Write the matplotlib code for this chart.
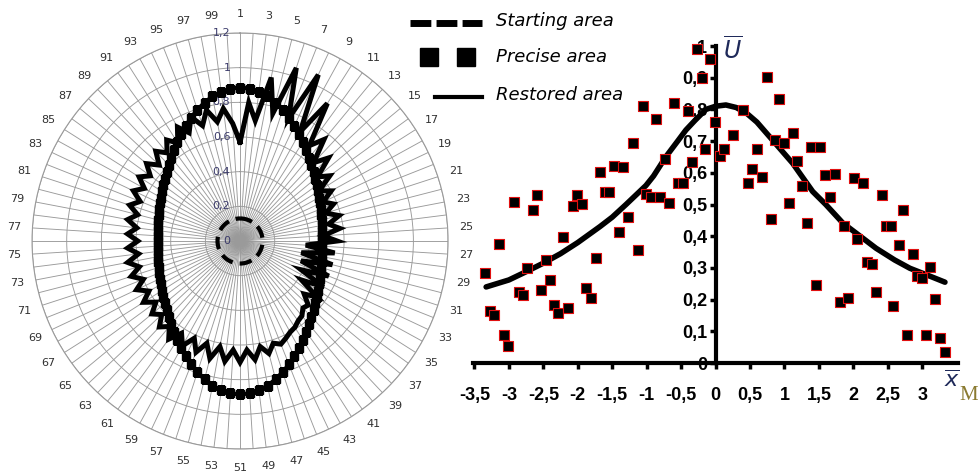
import numpy as np
import matplotlib.pyplot as plt

# ---- left chart: radar with 100 directions (1 on top, clockwise) ----
categories = list(range(1, 101))

starting = [0.13, 0.13, 0.13, 0.13, 0.13, 0.13, 0.13, 0.13, 0.13, 0.13,
            0.13, 0.13, 0.13, 0.13, 0.13, 0.13, 0.13, 0.13, 0.13, 0.13,
            0.13, 0.13, 0.13, 0.13, 0.13, 0.13, 0.13, 0.13, 0.13, 0.13,
            0.13, 0.13, 0.13, 0.13, 0.13, 0.13, 0.13, 0.13, 0.13, 0.13,
            0.13, 0.13, 0.13, 0.13, 0.13, 0.13, 0.13, 0.13, 0.13, 0.13,
            0.13, 0.13, 0.13, 0.13, 0.13, 0.13, 0.13, 0.13, 0.13, 0.13,
            0.13, 0.13, 0.13, 0.13, 0.13, 0.13, 0.13, 0.13, 0.13, 0.13,
            0.13, 0.13, 0.13, 0.13, 0.13, 0.13, 0.13, 0.13, 0.13, 0.13,
            0.13, 0.13, 0.13, 0.13, 0.13, 0.13, 0.13, 0.13, 0.13, 0.13,
            0.13, 0.13, 0.13, 0.13, 0.13, 0.13, 0.13, 0.13, 0.13, 0.13]

precise = [0.885, 0.881, 0.868, 0.849, 0.824, 0.796, 0.766, 0.735, 0.705, 0.677,
           0.650, 0.625, 0.602, 0.582, 0.563, 0.547, 0.533, 0.520, 0.509, 0.500,
           0.492, 0.486, 0.481, 0.478, 0.476, 0.475, 0.476, 0.478, 0.481, 0.486,
           0.492, 0.500, 0.509, 0.520, 0.533, 0.547, 0.563, 0.582, 0.602, 0.625,
           0.650, 0.677, 0.705, 0.735, 0.766, 0.796, 0.824, 0.849, 0.868, 0.881,
           0.885, 0.881, 0.868, 0.849, 0.824, 0.796, 0.766, 0.735, 0.705, 0.677,
           0.650, 0.625, 0.602, 0.582, 0.563, 0.547, 0.533, 0.520, 0.509, 0.500,
           0.492, 0.486, 0.481, 0.478, 0.476, 0.475, 0.476, 0.478, 0.481, 0.486,
           0.492, 0.500, 0.509, 0.520, 0.533, 0.547, 0.563, 0.582, 0.602, 0.625,
           0.650, 0.677, 0.705, 0.735, 0.766, 0.796, 0.824, 0.849, 0.868, 0.881]

restored = [0.57, 0.80, 0.70, 0.96, 0.76, 1.05, 0.76, 1.06, 0.72, 0.94,
            0.68, 0.76, 0.62, 0.70, 0.58, 0.64, 0.54, 0.60, 0.53, 0.58,
            0.52, 0.59, 0.52, 0.58, 0.48, 0.56, 0.38, 0.55, 0.36, 0.55,
            0.37, 0.55, 0.39, 0.55, 0.42, 0.55, 0.48, 0.54, 0.53, 0.56,
            0.57, 0.59, 0.60, 0.62, 0.64, 0.62, 0.67, 0.62, 0.69, 0.63,
            0.70, 0.63, 0.70, 0.62, 0.70, 0.62, 0.69, 0.62, 0.69, 0.63,
            0.70, 0.64, 0.68, 0.62, 0.66, 0.60, 0.66, 0.60, 0.66, 0.60,
            0.66, 0.60, 0.66, 0.59, 0.65, 0.59, 0.65, 0.60, 0.66, 0.61,
            0.67, 0.62, 0.68, 0.63, 0.69, 0.64, 0.70, 0.64, 0.71, 0.66,
            0.72, 0.67, 0.75, 0.69, 0.77, 0.70, 0.78, 0.70, 0.77, 0.68]

radial_ticks = [0, 0.2, 0.4, 0.6, 0.8, 1.0, 1.2]
radial_labels = ['0', '0,2', '0,4', '0,6', '0,8', '1', '1,2']

# ---- right chart ----
sx = [-3.34, -3.27, -3.21, -3.14, -3.07, -3.01, -2.93, -2.86, -2.79, -2.73,
      -2.65, -2.59, -2.53, -2.46, -2.40, -2.35, -2.28, -2.21, -2.14, -2.07,
      -2.01, -1.94, -1.88, -1.81, -1.74, -1.67, -1.61, -1.54, -1.48, -1.40,
      -1.34, -1.27, -1.20, -1.13, -1.06, -1.01, -0.93, -0.86, -0.80, -0.73,
      -0.68, -0.61, -0.54, -0.47, -0.40, -0.34, -0.27, -0.20, -0.15, -0.08,
      -0.01, 0.06, 0.12, 0.26, 0.40, 0.47, 0.53, 0.60, 0.67, 0.74,
      0.81, 0.87, 0.92, 0.99, 1.06, 1.12, 1.18, 1.25, 1.33, 1.38,
      1.46, 1.52, 1.59, 1.66, 1.73, 1.80, 1.86, 1.92, 2.01, 2.06,
      2.14, 2.20, 2.27, 2.33, 2.41, 2.47, 2.54, 2.58, 2.66, 2.72,
      2.78, 2.86, 2.92, 2.99, 3.06, 3.12, 3.19, 3.26, 3.33]
sy = [0.284, 0.165, 0.152, 0.376, 0.089, 0.053, 0.509, 0.224, 0.213, 0.301,
      0.483, 0.530, 0.231, 0.324, 0.261, 0.184, 0.158, 0.397, 0.172, 0.496,
      0.530, 0.501, 0.236, 0.204, 0.332, 0.602, 0.538, 0.539, 0.620, 0.412,
      0.617, 0.460, 0.693, 0.357, 0.811, 0.534, 0.525, 0.769, 0.523, 0.644,
      0.506, 0.819, 0.569, 0.569, 0.795, 0.633, 0.990, 0.900, 0.675, 0.958,
      0.760, 0.654, 0.676, 0.718, 0.798, 0.569, 0.611, 0.674, 0.586, 0.903,
      0.455, 0.704, 0.833, 0.695, 0.504, 0.725, 0.636, 0.557, 0.443, 0.683,
      0.247, 0.680, 0.593, 0.523, 0.596, 0.191, 0.431, 0.204, 0.584, 0.392,
      0.567, 0.320, 0.312, 0.224, 0.530, 0.433, 0.433, 0.181, 0.373, 0.483,
      0.089, 0.345, 0.275, 0.268, 0.089, 0.303, 0.202, 0.079, 0.035]

cx = [-3.33, -3.0, -2.75, -2.5, -2.25, -2.0, -1.68, -1.5, -1.3, -1.01, -0.9,
      -0.72, -0.55, -0.43, -0.3, -0.14, 0.0, 0.15, 0.3, 0.45, 0.6, 0.74, 0.9,
      1.12, 1.25, 1.41, 1.6, 1.85, 2.1, 2.33, 2.6, 2.82, 3.1, 3.33]
cy = [0.240, 0.262, 0.288, 0.315, 0.345, 0.380, 0.430, 0.460, 0.500, 0.560, 0.590,
      0.651, 0.700, 0.735, 0.765, 0.800, 0.810, 0.814, 0.806, 0.788, 0.760, 0.725, 0.685,
      0.630, 0.590, 0.541, 0.500, 0.441, 0.400, 0.362, 0.325, 0.299, 0.275, 0.255]

x_ticks = [-3.5, -3, -2.5, -2, -1.5, -1, -0.5, 0, 0.5, 1, 1.5, 2, 2.5, 3]
x_labels = ['-3,5', '-3', '-2,5', '-2', '-1,5', '-1', '-0,5', '0', '0,5', '1', '1,5', '2', '2,5', '3']
y_ticks = [0, 0.1, 0.2, 0.3, 0.4, 0.5, 0.6, 0.7, 0.8, 0.9, 1.0]
y_labels = ['0', '0,1', '0,2', '0,3', '0,4', '0,5', '0,6', '0,7', '0,8', '0,9', '1']

legend_labels = ['Starting area', 'Precise area', 'Restored area']

fig = plt.figure(figsize=(9.8, 4.72), dpi=100)

# radar part
ax = fig.add_axes([0.0327, 0.0487, 0.4245, 0.8814], projection='polar')
ax.set_theta_zero_location('N')
ax.set_theta_direction(-1)
theta = np.deg2rad((np.array(categories) - 1) * 3.6)
th = np.append(theta, theta[0])

ax.set_xticks(theta)
ax.set_xticklabels([str(c) if c % 2 else '' for c in categories],
                   fontsize=8, color='#303030')
ax.tick_params(axis='x', pad=3)
ax.set_ylim(0, 1.2)
ax.set_yticks(radial_ticks)
ax.set_yticklabels([])
ax.grid(True, color='#9a9a9a', lw=0.65)
ax.spines['polar'].set_color('#9a9a9a')
ax.spines['polar'].set_linewidth(0.8)
for r, lab in zip(radial_ticks, radial_labels):
    ax.annotate(lab, xy=(0, r), xytext=(-7, 0), textcoords='offset points',
                ha='right', va='center', fontsize=8, color='#3b3b6b')

ax.plot(th, np.append(precise, precise[0]), color='black', lw=3,
        marker='s', ms=5.5, zorder=3)
ax.plot(th, np.append(restored, restored[0]), color='black', lw=3.6,
        solid_joinstyle='miter', zorder=4)
ax.plot(th, np.append(starting, starting[0]), color='black', lw=3,
        ls=(0, (3, 1.7)), zorder=5)

# scatter part
ax2 = fig.add_axes([0.4827, 0.2309, 0.4949, 0.6716])
ax2.set_xlim(-3.52, 3.52)
ax2.set_ylim(0, 1.0)
ax2.spines['left'].set_position(('data', 0))
ax2.spines['top'].set_visible(False)
ax2.spines['right'].set_visible(False)
for s in ('left', 'bottom'):
    ax2.spines[s].set_linewidth(3)
ax2.set_xticks(x_ticks)
ax2.set_xticklabels(x_labels)
ax2.set_yticks(y_ticks)
ax2.set_yticklabels(y_labels)
ax2.tick_params(axis='x', direction='out', length=4, width=2.5, pad=13)
ax2.tick_params(axis='y', direction='out', length=4, width=2.5, pad=2)
for lab in ax2.get_xticklabels() + ax2.get_yticklabels():
    lab.set_fontfamily('Liberation Sans')
    lab.set_fontweight('bold')
    lab.set_fontsize(13)

ax2.plot(cx, cy, color='black', lw=4, solid_capstyle='round', zorder=3)
ax2.scatter(sx, sy, marker='s', s=45, color='black', edgecolors='#e01010',
            linewidths=0.8, zorder=4, clip_on=False)

ax2.text(0.25, 0.985, r'$\overline{U}$', fontsize=17, color='#1f2a5a',
         ha='center', va='center', family='serif')
fig.text(952 / 980, 1 - 380 / 472, r'$\overline{x}$', fontsize=16, color='#1f2a5a',
         ha='center', va='center')
fig.text(969 / 980, 1 - 395 / 472, 'M', fontsize=15, color='#8a7a30', ha='center',
         va='center', family='Liberation Serif')

# legend, drawn in pixel coordinates on a transparent overlay
lax = fig.add_axes([0, 0, 1, 1], zorder=10)
lax.set_xlim(0, 980)
lax.set_ylim(472, 0)
lax.axis('off')
lax.plot([410, 482], [22.5, 22.5], color='black', lw=5, ls=(0, (3.0, 0.75)))
lax.plot([429, 466], [57, 57], color='black', ls='none', marker='s', ms=13)
lax.plot([435, 482], [97, 97], color='black', lw=3)
for y, lab in zip([21, 57, 95], legend_labels):
    lax.text(496, y, lab, fontsize=13, style='italic', va='center', ha='left',
             family='DejaVu Sans')

fig.savefig('out.png', dpi=100)
